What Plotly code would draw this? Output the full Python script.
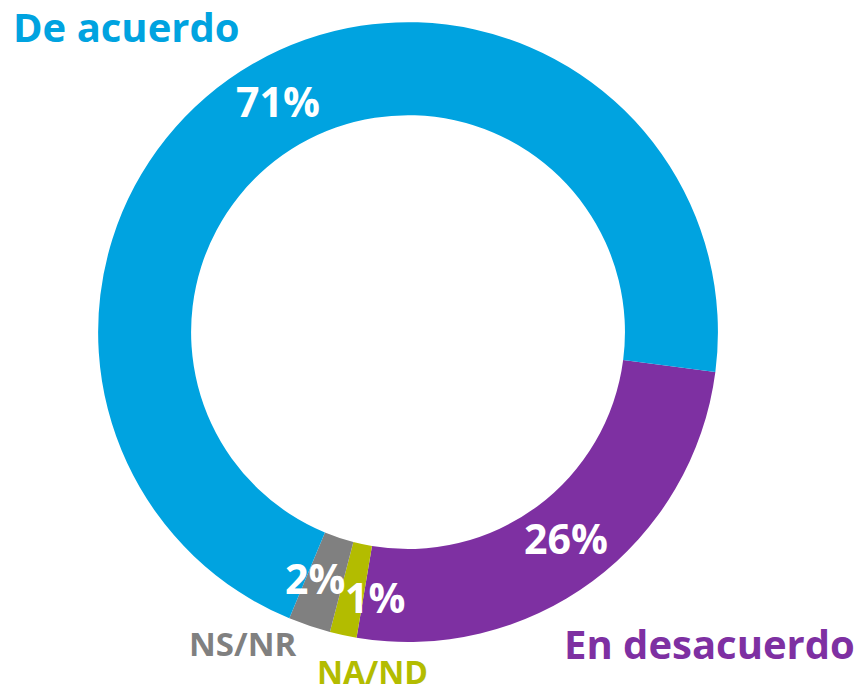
import plotly.graph_objects as go

# slice data, in drawing order (clockwise from the right side)
categories = ["En desacuerdo", "NA/ND", "NS/NR", "De acuerdo"]
values = [25.6, 1.4, 2.2, 70.8]
colors = ["#7E30A2", "#B3BC00", "#808080", "#00A3E0"]

FONT = "Open Sans"

fig = go.Figure()

fig.add_trace(
    go.Pie(
        labels=categories,
        values=values,
        hole=0.70,
        sort=False,
        direction="clockwise",
        rotation=97.4,
        marker=dict(colors=colors, line=dict(width=0)),
        textinfo="none",
        showlegend=False,
        hoverinfo="label+percent",
        domain=dict(x=[0.1138, 0.834], y=[0.0736, 0.968]),
    )
)

# percentage labels on the ring
pct_pos = {
    "De acuerdo": (0.323, 0.854),
    "En desacuerdo": (0.657, 0.223),
    "NS/NR": (0.366, 0.166),
    "NA/ND": (0.435, 0.138),
}
for cat, val in zip(categories, values):
    x, y = pct_pos[cat]
    fig.add_annotation(
        x=x, y=y, xref="paper", yref="paper",
        text=f"{val:.0f}%", showarrow=False,
        xanchor="center", yanchor="middle",
        font=dict(family=FONT, size=41, color="white", weight=700),
    )

# category labels outside the ring
label_pos = {
    "De acuerdo": (0.014, 0.962),
    "NS/NR": (0.218, 0.072),
    "NA/ND": (0.367, 0.031),
    "En desacuerdo": (0.654, 0.072),
}
label_size = {"De acuerdo": 40, "NS/NR": 33, "NA/ND": 32, "En desacuerdo": 40}

for cat, col in zip(categories, colors):
    x, y = label_pos[cat]
    fig.add_annotation(
        x=x, y=y, xref="paper", yref="paper",
        text=cat, showarrow=False,
        xanchor="left", yanchor="middle", borderpad=0,
        font=dict(family=FONT, size=label_size[cat], color=col, weight=700),
    )

fig.update_layout(
    width=861,
    height=693,
    margin=dict(l=0, r=0, t=0, b=0),
    paper_bgcolor="white",
)

# drop the page's default body margin so the figure fills the window
fig.write_html(
    "out.html",
    config={"displayModeBar": False},
    post_script="document.body.style.margin = '0px';",
)
